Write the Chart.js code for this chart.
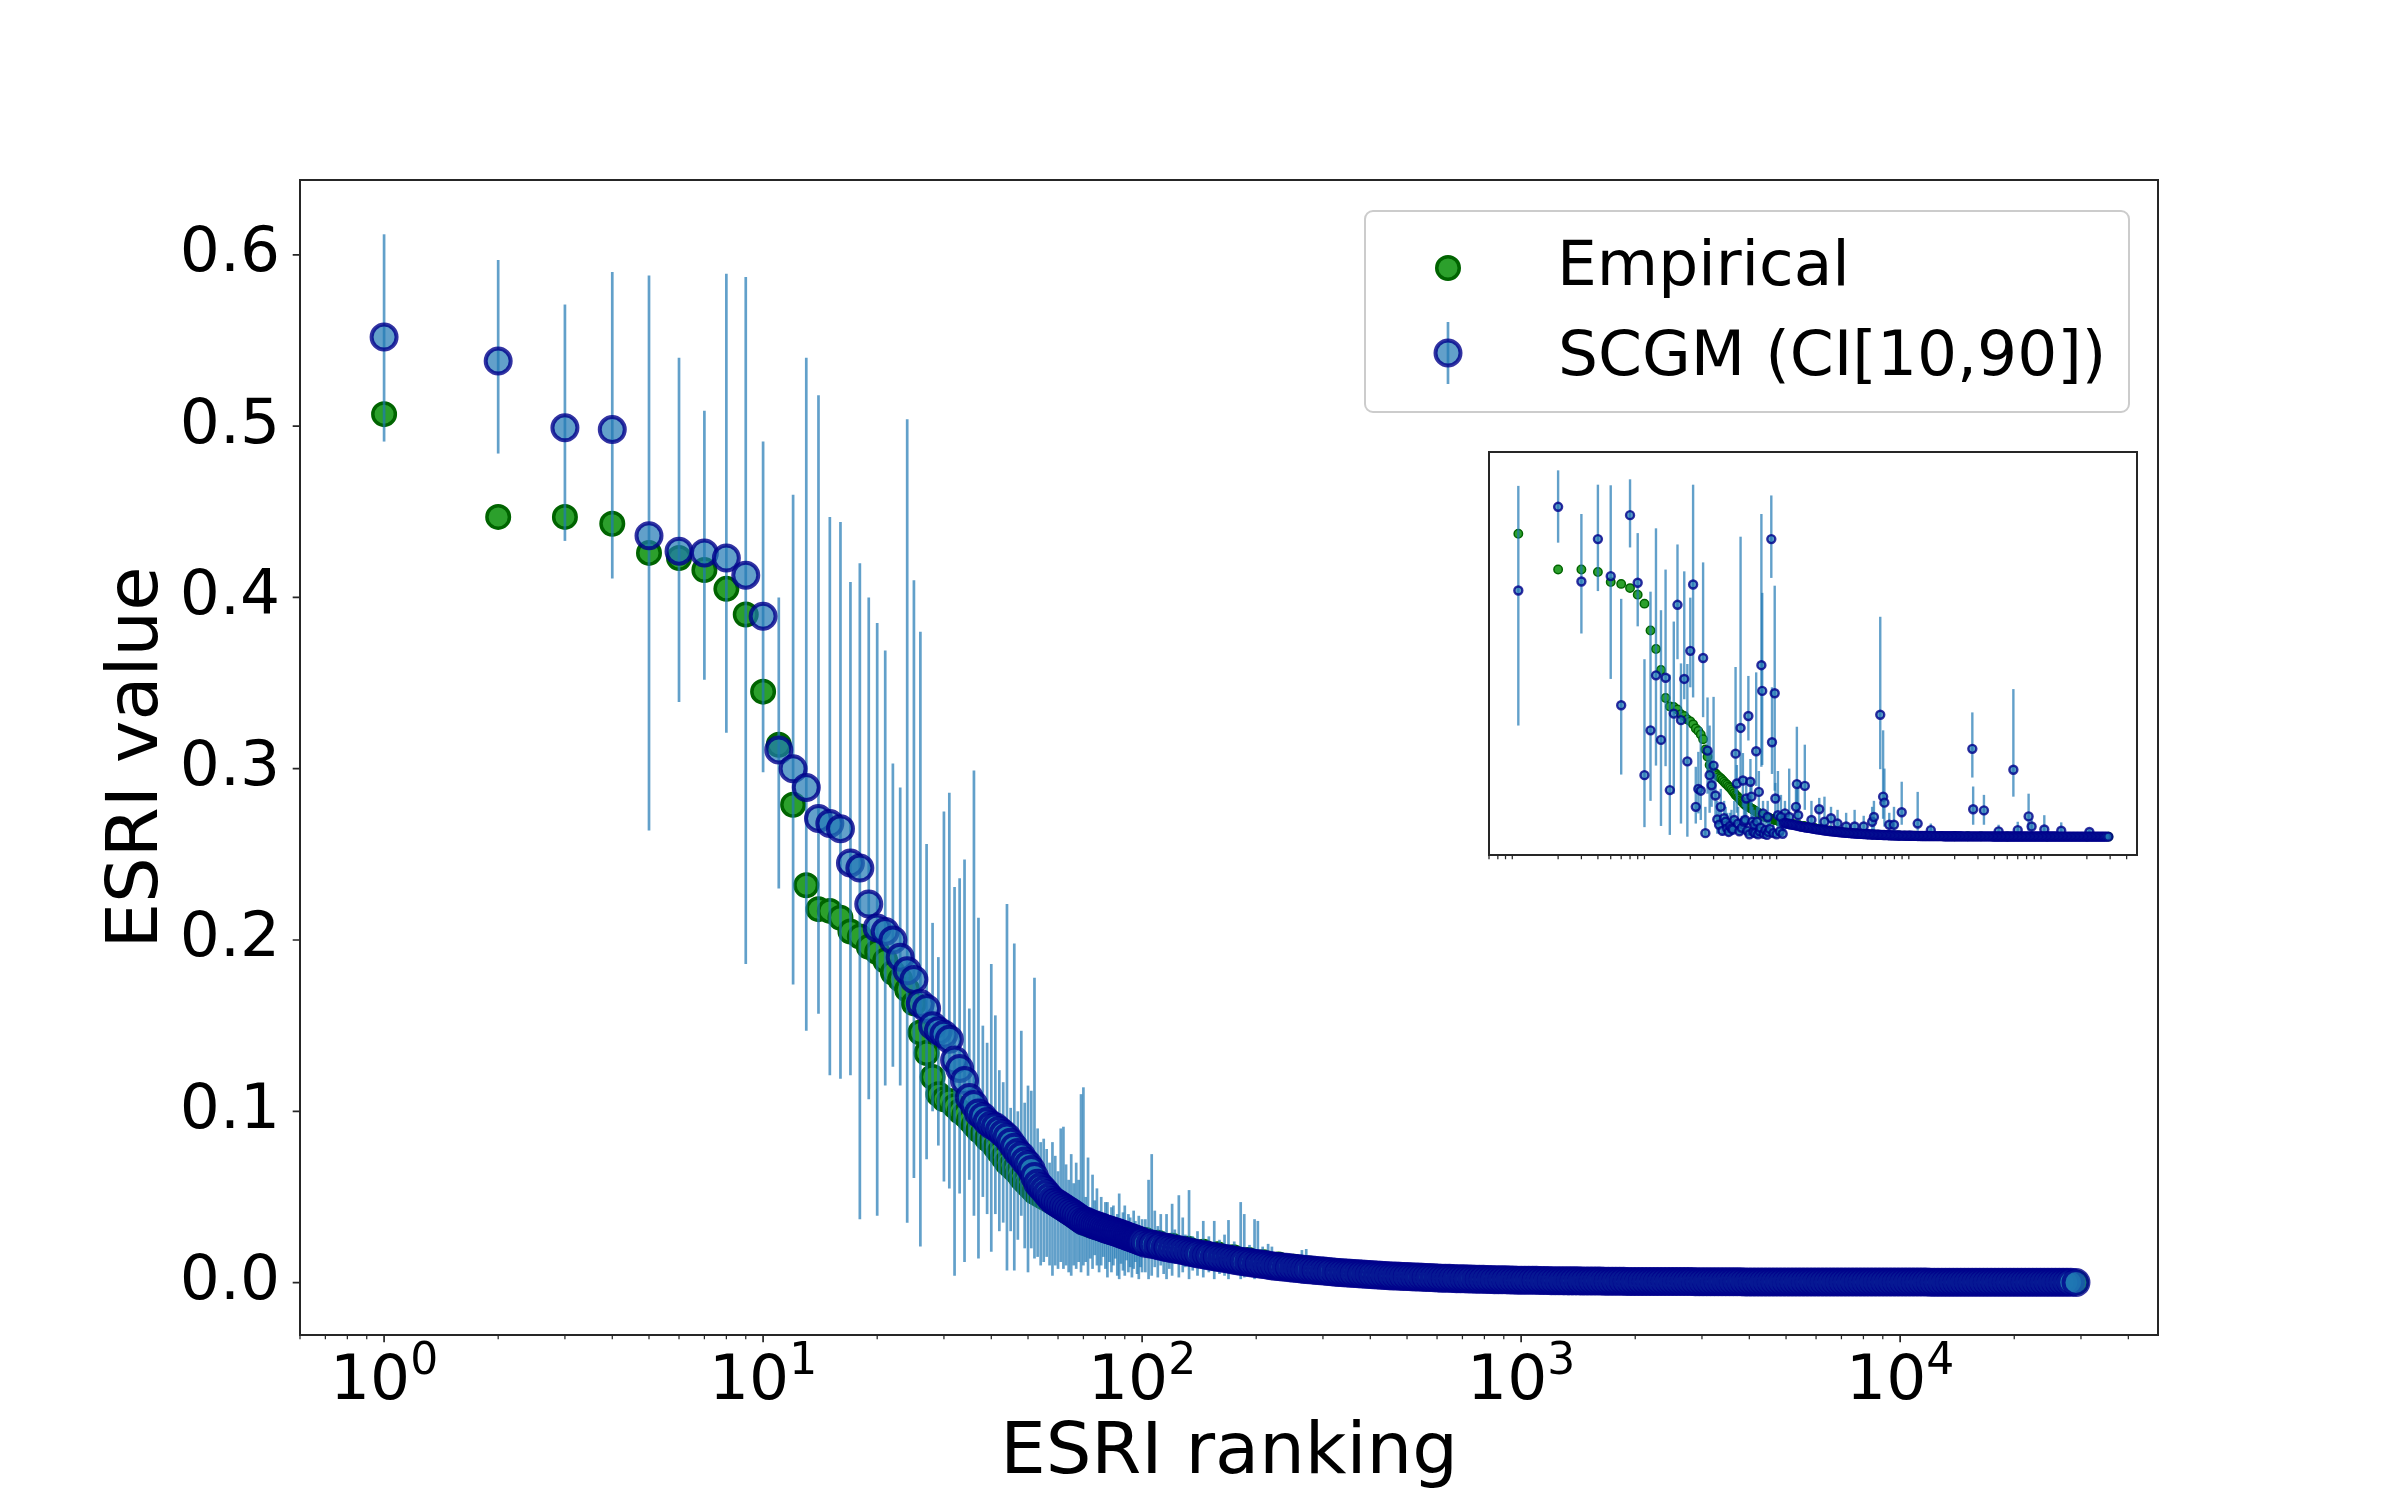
<!DOCTYPE html>
<html>
<head>
<meta charset="utf-8">
<title>ESRI ranking</title>
<script src="https://cdn.jsdelivr.net/npm/chart.js@4.4.1/dist/chart.umd.min.js"></script>
<style>
  html, body { margin: 0; padding: 0; background: #fff; }
  #wrap { position: relative; width: 2400px; height: 1500px; }
  #main { position: absolute; left: 0; top: 0; }
  #inset { position: absolute; left: 1480px; top: 440px; }
</style>
</head>
<body>
<div id="wrap">
  <canvas id="main" width="2400" height="1500"></canvas>
  <canvas id="inset" width="680" height="440"></canvas>
</div>
<script>
// ranks 1..100, read one by one
const ranks = [
  1, 2, 3, 4, 5, 6, 7, 8, 9, 10,
  11, 12, 13, 14, 15, 16, 17, 18, 19, 20,
  21, 22, 23, 24, 25, 26, 27, 28, 29, 30,
  31, 32, 33, 34, 35, 36, 37, 38, 39, 40,
  41, 42, 43, 44, 45, 46, 47, 48, 49, 50,
  51, 52, 53, 54, 55, 56, 57, 58, 59, 60,
  61, 62, 63, 64, 65, 66, 67, 68, 69, 70,
  71, 72, 73, 74, 75, 76, 77, 78, 79, 80,
  81, 82, 83, 84, 85, 86, 87, 88, 89, 90,
  91, 92, 93, 94, 95, 96, 97, 98, 99, 100
];
const empirical = [
  .507, .447, .447, .443, .426, .423, .416, .405, .390, .345,
  .314, .279, .232, .218, .217, .213, .205, .202, .196, .193,
  .188, .181, .177, .171, .163, .146, .134, .120, .110, .107,
  .106, .103, .100, .098, .095, .092, .089, .087, .084, .082,
  .079, .076, .073, .070, .068, .066, .064, .061, .059, .057,
  .055, .053, .052, .051, .050, .049, .048, .047, .046, .045,
  .044, .043, .042, .041, .040, .039, .038, .037, .036, .035,
  .0345, .0340, .0335, .0330, .0326, .0322, .0318, .0314, .0310, .0306,
  .0302, .0298, .0295, .0292, .0289, .0286, .0283, .0280, .0277, .0274,
  .0271, .0268, .0265, .0262, .0259, .0256, .0253, .0250, .0247, .0244
];
const scgm = [
  .552, .538, .499, .498, .436, .427, .426, .423, .413, .389,
  .311, .300, .289, .271, .268, .265, .245, .242, .221, .207,
  .205, .200, .190, .182, .177, .163, .160, .150, .147, .145,
  .142, .130, .125, .118, .108, .104, .099, .097, .094, .092,
  .091, .089, .087, .085, .082, .079, .076, .074, .071, .069,
  .066, .062, .058, .056, .054, .052, .050, .048, .047, .046,
  .045, .044, .043, .042, .041, .040, .039, .038, .037, .036,
  .0358, .0352, .0346, .0340, .0336, .0332, .0328, .0324, .0318, .0314,
  .0310, .0307, .0303, .0299, .0296, .0292, .0288, .0284, .0280, .0276,
  .0272, .0268, .0264, .0261, .0257, .0253, .0250, .0246, .0242, .0238
];
const ciLow = [
  .491, .484, .433, .411, .264, .339, .352, .321, .186, .298,
  .230, .174, .147, .157, .121, .119, .121, .037, .107, .039,
  .115, .126, .115, .035, .061, .021, .072, .100, .080, .059,
  .055, .004, .052, .012, .060, .039, .014, .050, .040, .018,
  .040, .030, .035, .007, .030, .007, .025, .039, .020, .006,
  .020, .014, .015, .010, .012, .015, .010, .004, .010, .008,
  .012, .008, .010, .006, .004, .010, .008, .012, .006, .010,
  .012, .004, .014, .008, .016, .010, .006, .010, .015, .008,
  .003, .012, .006, .010, .014, .004, .002, .011, .007, .004,
  .013, .006, .009, .003, .008, .012, .005, .002, .009, .006
];
const ciHigh = [
  .612, .597, .571, .590, .588, .540, .509, .589, .587, .491,
  .400, .460, .540, .518, .447, .444, .409, .420, .400, .385,
  .369, .303, .289, .504, .410, .380, .256, .210, .190, .275,
  .286, .231, .236, .247, .160, .299, .213, .150, .140, .186,
  .156, .124, .117, .221, .102, .198, .100, .147, .105, .115,
  .112, .178, .090, .082, .084, .078, .070, .082, .074, .065,
  .090, .091, .069, .060, .075, .058, .070, .060, .110, .114,
  .050, .073, .044, .063, .048, .055, .042, .050, .040, .047,
  .047, .038, .044, .045, .036, .040, .052, .035, .041, .045,
  .034, .040, .038, .032, .042, .036, .031, .039, .033, .037
];

// long tail of SCGM, sampled densely so the markers merge into one band
const tailRanks = [
  102, 105, 107, 110, 112, 115, 117, 120, 123, 126,
  129, 132, 135, 138, 141, 145, 148, 151, 155, 158,
  162, 166, 170, 174, 178, 182, 186, 191, 195, 200,
  204, 209, 214, 219, 224, 229, 234, 240, 245, 251,
  257, 263, 269, 275, 282, 288, 295, 302, 309, 316,
  324, 331, 339, 347, 355, 363, 372, 380, 389, 398,
  407, 417, 427, 437, 447, 457, 468, 479, 490, 501,
  513, 525, 537, 550, 562, 575, 589, 603, 617, 631,
  646, 661, 676, 692, 708, 724, 741, 759, 776, 794,
  813, 832, 851, 871, 891, 912, 933, 955, 977, 1000,
  1023, 1047, 1072, 1096, 1122, 1148, 1175, 1202, 1230, 1259,
  1288, 1318, 1349, 1380, 1413, 1445, 1479, 1514, 1549, 1585,
  1622, 1660, 1698, 1738, 1778, 1820, 1862, 1905, 1950, 1995,
  2042, 2089, 2138, 2188, 2239, 2291, 2344, 2399, 2455, 2512,
  2570, 2630, 2692, 2754, 2818, 2884, 2951, 3020, 3090, 3162,
  3236, 3311, 3388, 3467, 3548, 3631, 3715, 3802, 3890, 3981,
  4074, 4169, 4266, 4365, 4467, 4571, 4677, 4786, 4898, 5012,
  5129, 5248, 5370, 5495, 5623, 5754, 5888, 6026, 6166, 6310,
  6457, 6607, 6761, 6918, 7079, 7244, 7413, 7586, 7762, 7943,
  8128, 8318, 8511, 8710, 8913, 9120, 9333, 9550, 9772, 10000,
  10233, 10471, 10715, 10965, 11220, 11482, 11749, 12023, 12303, 12589,
  12882, 13183, 13490, 13804, 14125, 14454, 14791, 15136, 15488, 15849,
  16218, 16596, 16982, 17378, 17783, 18197, 18621, 19055, 19498, 19953,
  20417, 20893, 21380, 21878, 22387, 22909, 23442, 23988, 24547, 25119,
  25704, 26303, 26915, 27542, 28184, 29100
];
const tailScgm = [
  .0230, .0226, .0222, .0216, .0212, .0207, .0203, .0198, .0194, .0190,
  .0186, .0180, .0176, .0171, .0167, .0162, .0159, .0155, .0151, .0148,
  .0144, .0140, .0136, .0132, .0128, .0125, .0122, .0118, .0115, .0111,
  .0108, .0105, .0102, .0099, .0096, .0094, .0091, .0089, .0087, .0084,
  .0082, .0079, .0077, .0075, .0073, .0071, .0069, .0067, .0065, .0063,
  .0061, .0059, .0058, .0056, .0054, .0053, .0051, .0050, .0048, .0047,
  .0046, .0044, .0043, .0042, .0040, .0039, .0038, .0037, .0036, .0035,
  .0034, .0033, .0032, .0031, .0030, .0029, .0028, .0027, .0026, .0026,
  .0025, .0024, .0023, .0023, .0022, .0021, .0021, .0020, .0019, .0019,
  .0018, .0018, .0017, .0017, .0016, .0016, .0015, .0015, .0014, .0014,
  .0014, .0013, .0013, .0013, .0012, .0012, .0012, .0011, .0011, .0011,
  .0011, .0010, .0010, .0010, .0010, .0009, .0009, .0009, .0009, .0009,
  .0009, .0008, .0008, .0008, .0008, .0008, .0008, .0007, .0007, .0007,
  .0007, .0007, .0007, .0007, .0007, .0006, .0006, .0006, .0006, .0006,
  .0006, .0006, .0006, .0006, .0006, .0005, .0005, .0005, .0005, .0005,
  .0005, .0005, .0005, .0005, .0005, .0005, .0005, .0005, .0004, .0004,
  .0004, .0004, .0004, .0004, .0004, .0004, .0004, .0004, .0004, .0004,
  .0004, .0004, .0004, .0004, .0004, .0004, .0004, .0003, .0003, .0003,
  .0003, .0003, .0003, .0003, .0003, .0003, .0003, .0003, .0003, .0003,
  .0003, .0003, .0003, .0003, .0003, .0003, .0003, .0003, .0003, .0003,
  .0003, .0003, .0003, .0003, .0003, .0003, .0003, .0002, .0002, .0002,
  .0002, .0002, .0002, .0002, .0002, .0002, .0002, .0002, .0002, .0002,
  .0002, .0002, .0002, .0002, .0002, .0002, .0002, .0002, .0002, .0002,
  .0002, .0002, .0002, .0002, .0002, .0002, .0002, .0002, .0002, .0002,
  .0002, .0002, .0002, .0002, .0002, .0001
];
const empTailRanks = [
  102, 110, 120, 132, 145, 158, 174, 191, 209, 229,
  251, 275, 302, 331, 363, 398, 437, 479, 525, 575,
  631, 692, 759, 832, 912, 1000, 1259, 1585, 1995, 2512,
  3162, 5012, 10000, 20000, 29100
];
const empTail = [
  .0248, .0232, .0215, .0198, .0180, .0165, .0148, .0132, .0118, .0105,
  .0093, .0082, .0072, .0063, .0055, .0048, .0042, .0037, .0032, .0028,
  .0025, .0022, .0020, .0018, .0016, .0015, .0012, .0010, .0008, .0007,
  .0006, .0004, .0003, .0002, .0001
];
// CI spikes visible above / below the band between 10^2 and 3*10^2
const tailCiRanks = [102, 104, 106, 108, 110, 112, 114, 116, 118, 120, 122, 125, 128, 130, 133, 136, 140, 145, 150, 155,
  160, 165, 169, 175, 182, 186, 192, 198, 202, 208, 215, 220, 228, 240, 250, 264, 271, 285, 300];
const tailCiLow = [.006, .002, .004, .009, .003, .010, .005, .002, .008, .004, .011, .003, .006, .009, .002, .007, .004, .003, .006, .002,
  .005, .004, .002, .005, .002, .003, .004, .002, .003, .004, .002, .004, .003, .002, .003, .002, .002, .002, .002];
const tailCiHigh = [.037, .060, .075, .042, .033, .040, .030, .040, .029, .046, .031, .051, .038, .028, .054, .027, .030, .036, .027, .036,
  .025, .028, .0365, .024, .047, .040, .022, .037, .036, .021, .0226, .021, .017, .016, .015, .019, .0196, .011, .010];

// inset: SCGM value of each node placed at its empirical rank
const insetRanks = [
  1, 2, 3, 4, 5, 6, 7, 8, 9, 10,
  11, 12, 13, 14, 15, 16, 17, 18, 19, 20,
  21, 22, 23, 24, 25, 26, 27, 28, 29, 30,
  31, 32, 33, 34, 35, 36, 37, 38, 39, 40,
  41, 42, 43, 44, 45, 46, 47, 48, 49, 50,
  51, 52, 53, 54, 55, 56, 57, 58, 59, 60,
  61, 62, 63, 64, 65, 66, 67, 68, 69, 70,
  71, 72, 74, 76, 78, 80, 82, 83, 85, 87,
  88, 90, 95, 100, 104, 126, 128, 147, 189, 232,
  547, 575, 588, 795, 1050, 2720, 2760, 3330, 5560, 7250,
  7640, 9530, 12800, 20900, 77, 92, 97, 112, 131, 165,
  207, 260, 302, 350, 410, 475, 490, 640, 695, 1320,
  4300, 6000
];
const insetScgm = [
  .412, .552, .427, .498, .436, .220, .538, .425, .103, .178,
  .270, .162, .266, .078, .206, .388, .195, .264, .126, .311,
  .422, .050, .080, .077, .299, .006, .144, .103, .086, .119,
  .069, .029, .020, .050, .010, .031, .025, .014, .008, .018,
  .014, .012, .028, .139, .089, .022, .009, .182, .015, .094,
  .025, .028, .064, .010, .202, .004, .092, .067, .025, .008,
  .020, .006, .143, .025, .004, .075, .009, .015, .287, .244,
  .039, .005, .011, .003, .008, .013, .498, .158, .006, .240,
  .064, .004, .009, .005, .039, .050, .088, .085, .046, .031,
  .204, .067, .057, .041, .022, .147, .046, .044, .112, .034,
  .017, .012, .010, .008, .033, .036, .033, .033, .036, .028,
  .025, .022, .017, .017, .017, .025, .033, .020, .020, .011,
  .009, .011
];
const insetLow = [
  .186, .492, .340, .411, .264, .104, .484, .352, .016, .060,
  .119, .018, .118, .003, .072, .297, .022, .230, .000, .250,
  .233, .022, .039, .028, .200, .000, .072, .040, .050, .072,
  .030, .005, .005, .020, .002, .010, .008, .002, .001, .004,
  .002, .003, .010, .072, .040, .006, .002, .095, .004, .050,
  .008, .008, .030, .002, .161, .001, .040, .030, .008, .002,
  .005, .001, .085, .008, .001, .040, .002, .004, .117, .120,
  .010, .001, .003, .001, .002, .003, .433, .105, .001, .077,
  .030, .001, .002, .001, .010, .020, .040, .045, .020, .010,
  .113, .030, .017, .020, .010, .099, .020, .020, .067, .010,
  .005, .004, .003, .002, .012, .015, .010, .012, .015, .010,
  .008, .006, .005, .005, .006, .008, .010, .006, .008, .004,
  .003, .004
];
const insetHigh = [
  .587, .613, .540, .589, .588, .398, .598, .508, .297, .410,
  .516, .379, .447, .271, .360, .489, .290, .444, .289, .400,
  .589, .117, .142, .183, .459, .050, .233, .186, .144, .234,
  .105, .060, .045, .080, .030, .060, .050, .040, .020, .040,
  .045, .030, .060, .284, .120, .050, .025, .502, .035, .140,
  .060, .060, .100, .030, .269, .015, .130, .095, .050, .025,
  .045, .020, .275, .050, .012, .110, .025, .040, .540, .408,
  .060, .015, .030, .010, .025, .035, .571, .250, .020, .420,
  .090, .012, .025, .015, .060, .080, .184, .154, .065, .050,
  .368, .178, .114, .092, .075, .208, .084, .070, .247, .072,
  .030, .036, .024, .012, .060, .110, .070, .114, .095, .060,
  .067, .045, .040, .045, .035, .050, .060, .040, .050, .022,
  .020, .025
];

const xTickPowers = [0, 1, 2, 3, 4];
const yTicks = [0, 0.1, 0.2, 0.3, 0.4, 0.5, 0.6];
const X_MIN = 0.6, X_MAX = 47900;
const Y_MIN = -0.0306, Y_MAX = 0.6437;

const GREEN_FACE = 'rgb(44,160,44)';
const GREEN_EDGE = 'rgb(0,100,0)';
const BLUE_FACE = 'rgba(31,119,180,0.7)';
const BLUE_EDGE = 'rgba(0,0,139,0.8)';
const BAR = 'rgba(31,119,180,0.7)';
const SPINE = '#262626';
const FONT = '"DejaVu Sans", sans-serif';

Chart.defaults.font.family = FONT;
Chart.defaults.color = '#000';

function points(xs, ys) {
  return xs.map((x, i) => ({ x: x, y: ys[i] }));
}

// one vertical segment per point, separated by gaps
function bars(xs, lo, hi) {
  const out = [];
  xs.forEach((x, i) => {
    out.push({ x: x, y: lo[i] }, { x: x, y: hi[i] }, { x: x, y: null });
  });
  return out;
}

const minorX = [];
[-1, 0, 1, 2, 3, 4].forEach(k => {
  for (let m = 2; m <= 9; m++) {
    const v = m * Math.pow(10, k);
    if (v >= X_MIN && v <= X_MAX) minorX.push(v);
  }
});

function circle(ctx, x, y, r, face, edge, lw) {
  ctx.beginPath();
  ctx.arc(x, y, r, 0, Math.PI * 2);
  ctx.fillStyle = face;
  ctx.fill();
  ctx.lineWidth = lw;
  ctx.strokeStyle = edge;
  ctx.stroke();
}

function drawPowerLabels(chart) {
  const { ctx, chartArea: a, scales: { x } } = chart;
  ctx.save();
  ctx.fillStyle = '#000';
  ctx.textBaseline = 'alphabetic';
  ctx.textAlign = 'left';
  xTickPowers.forEach(p => {
    const px = x.getPixelForValue(Math.pow(10, p));
    ctx.font = '63px ' + FONT;
    const w1 = ctx.measureText('10').width;
    ctx.font = '44px ' + FONT;
    const w2 = ctx.measureText(String(p)).width;
    const left = px - (w1 + w2) / 2;
    ctx.font = '63px ' + FONT;
    ctx.fillText('10', left, a.bottom + 64);
    ctx.font = '44px ' + FONT;
    ctx.fillText(String(p), left + w1, a.bottom + 39);
  });
  ctx.restore();
}

function drawLegend(chart) {
  const ctx = chart.ctx;
  const x0 = 1365, y0 = 211, w = 764, h = 201, r = 8;
  ctx.save();
  ctx.beginPath();
  ctx.moveTo(x0 + r, y0);
  ctx.lineTo(x0 + w - r, y0);
  ctx.arcTo(x0 + w, y0, x0 + w, y0 + r, r);
  ctx.lineTo(x0 + w, y0 + h - r);
  ctx.arcTo(x0 + w, y0 + h, x0 + w - r, y0 + h, r);
  ctx.lineTo(x0 + r, y0 + h);
  ctx.arcTo(x0, y0 + h, x0, y0 + h - r, r);
  ctx.lineTo(x0, y0 + r);
  ctx.arcTo(x0, y0, x0 + r, y0, r);
  ctx.closePath();
  ctx.fillStyle = 'rgba(255,255,255,0.8)';
  ctx.fill();
  ctx.strokeStyle = '#cccccc';
  ctx.lineWidth = 2;
  ctx.stroke();

  circle(ctx, 1448, 268, 11.25, GREEN_FACE, GREEN_EDGE, 3.5);
  ctx.beginPath();
  ctx.moveTo(1448, 322);
  ctx.lineTo(1448, 384);
  ctx.strokeStyle = BAR;
  ctx.lineWidth = 2.7;
  ctx.stroke();
  circle(ctx, 1448, 353, 12.5, BLUE_FACE, BLUE_EDGE, 4);

  ctx.fillStyle = '#000';
  ctx.font = '63px ' + FONT;
  ctx.textBaseline = 'alphabetic';
  ctx.textAlign = 'left';
  ctx.fillText('Empirical', 1557, 285);
  ctx.fillText('SCGM (CI[10,90])', 1558, 375);
  ctx.restore();
}

function axesFrame(cfg) {
  return {
    id: 'axesFrame',
    beforeDraw(chart) {
      const { ctx, chartArea: a } = chart;
      ctx.save();
      ctx.fillStyle = '#fff';
      ctx.fillRect(a.left, a.top, a.right - a.left, a.bottom - a.top);
      ctx.restore();
    },
    afterDraw(chart) {
      const { ctx, chartArea: a, scales } = chart;
      const x = scales.x, y = scales.y;
      ctx.save();
      ctx.strokeStyle = SPINE;
      ctx.lineWidth = cfg.spine;
      ctx.strokeRect(a.left, a.top, a.right - a.left, a.bottom - a.top);
      ctx.lineWidth = 1.25;
      ctx.beginPath();
      minorX.forEach(v => {
        const px = x.getPixelForValue(v);
        ctx.moveTo(px, a.bottom);
        ctx.lineTo(px, a.bottom + cfg.minorLen);
      });
      ctx.stroke();
      if (cfg.major) {
        ctx.lineWidth = 1.7;
        ctx.beginPath();
        xTickPowers.forEach(p => {
          const px = x.getPixelForValue(Math.pow(10, p));
          ctx.moveTo(px, a.bottom);
          ctx.lineTo(px, a.bottom + 7.3);
        });
        yTicks.forEach(v => {
          const py = y.getPixelForValue(v);
          ctx.moveTo(a.left, py);
          ctx.lineTo(a.left - 7.3, py);
        });
        ctx.stroke();
      }
      ctx.restore();
      if (cfg.after) cfg.after(chart);
    }
  };
}

new Chart(document.getElementById('main'), {
  type: 'scatter',
  data: {
    datasets: [
      {
        label: 'Empirical',
        data: points(ranks, empirical).concat(points(empTailRanks, empTail)),
        pointRadius: 11.25,
        pointBorderWidth: 3.5,
        backgroundColor: GREEN_FACE,
        borderColor: GREEN_EDGE,
        order: 3
      },
      {
        label: 'CI[10,90]',
        data: bars(ranks, ciLow, ciHigh).concat(bars(tailCiRanks, tailCiLow, tailCiHigh)),
        showLine: true,
        spanGaps: false,
        pointRadius: 0,
        borderColor: BAR,
        borderWidth: 2.7,
        segment: {},
        order: 2
      },
      {
        label: 'SCGM (CI[10,90])',
        data: points(ranks, scgm).concat(points(tailRanks, tailScgm)),
        pointRadius: 12.5,
        pointBorderWidth: 4,
        backgroundColor: BLUE_FACE,
        borderColor: BLUE_EDGE,
        order: 1
      }
    ]
  },
  options: {
    responsive: false,
    animation: false,
    devicePixelRatio: 1,
    events: [],
    layout: { padding: { left: 0, right: 242, top: 180, bottom: 0 } },
    plugins: { legend: { display: false }, tooltip: { enabled: false } },
    scales: {
      x: {
        type: 'logarithmic',
        min: X_MIN,
        max: X_MAX,
        grid: { display: false, drawTicks: false },
        border: { display: false },
        ticks: { display: false },
        title: { display: true, text: 'ESRI ranking', font: { size: 72 }, padding: { top: 0, bottom: 3 } },
        afterFit: s => { s.height = 165; }
      },
      y: {
        type: 'linear',
        min: Y_MIN,
        max: Y_MAX,
        grid: { display: false, drawTicks: false },
        border: { display: false },
        afterBuildTicks: s => { s.ticks = yTicks.map(v => ({ value: v })); },
        ticks: { font: { size: 63 }, padding: 20, callback: v => Number(v).toFixed(1) },
        title: { display: true, text: 'ESRI value', font: { size: 72 }, padding: { top: 95, bottom: 0 } },
        afterFit: s => { s.width = 300; }
      }
    }
  },
  plugins: [axesFrame({
    spine: 2,
    minorLen: 4.2,
    major: true,
    after: chart => { drawPowerLabels(chart); drawLegend(chart); }
  })]
});

new Chart(document.getElementById('inset'), {
  type: 'scatter',
  data: {
    datasets: [
      {
        label: 'Empirical',
        data: points(ranks, empirical).concat(points(empTailRanks, empTail)),
        pointRadius: 4.2,
        pointBorderWidth: 1.5,
        backgroundColor: GREEN_FACE,
        borderColor: GREEN_EDGE,
        order: 3
      },
      {
        label: 'CI[10,90]',
        data: bars(insetRanks, insetLow, insetHigh),
        showLine: true,
        spanGaps: false,
        pointRadius: 0,
        borderColor: BAR,
        borderWidth: 2.4,
        segment: {},
        order: 2
      },
      {
        label: 'SCGM',
        data: points(insetRanks, insetScgm).concat(points(tailRanks, tailScgm)),
        pointRadius: 4,
        pointBorderWidth: 2.4,
        backgroundColor: BLUE_FACE,
        borderColor: BLUE_EDGE,
        order: 1
      }
    ]
  },
  options: {
    responsive: false,
    animation: false,
    devicePixelRatio: 1,
    events: [],
    layout: { padding: { left: 9, right: 23, top: 12, bottom: 25 } },
    plugins: { legend: { display: false }, tooltip: { enabled: false } },
    scales: {
      x: { type: 'logarithmic', display: false, min: X_MIN, max: X_MAX },
      y: { type: 'linear', display: false, min: Y_MIN, max: Y_MAX }
    }
  },
  plugins: [axesFrame({ spine: 2, minorLen: 4.2, major: false })]
});
</script>
</body>
</html>
